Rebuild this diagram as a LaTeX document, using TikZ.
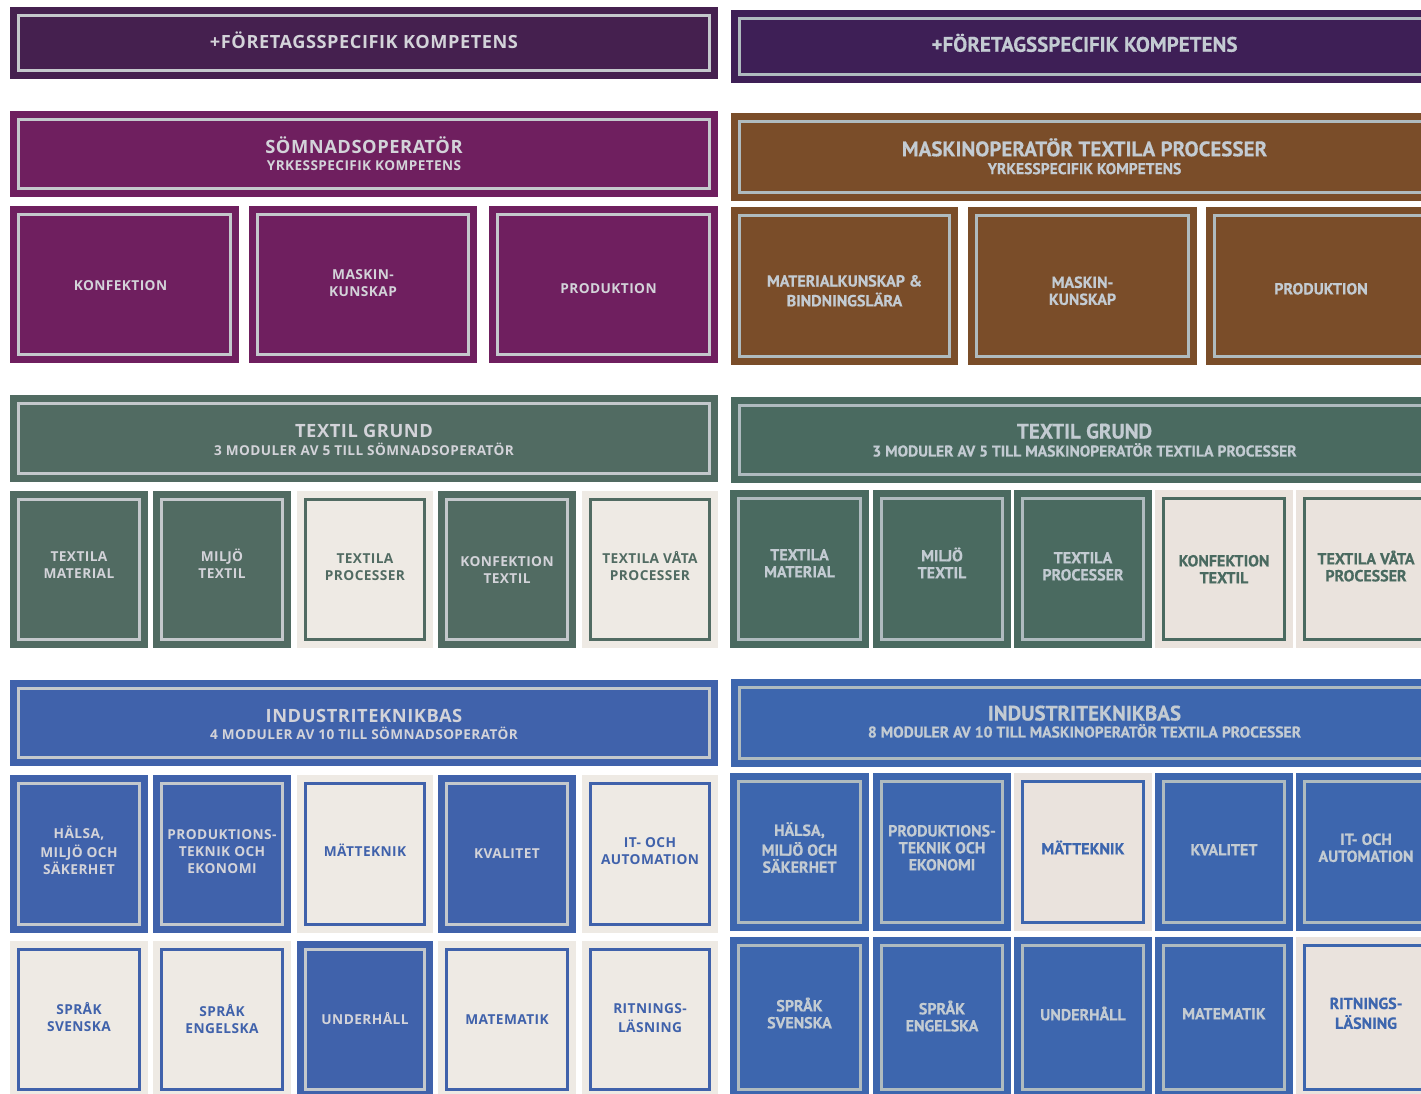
\documentclass[tikz,border=0pt]{standalone}
\usepackage{fontspec}
\setmainfont{Open Sans}
\newfontfamily\lfont[LetterSpace=3]{Open Sans}
\newfontfamily\rfont[BoldFont={PT Sans Bold}, BoldFeatures={FakeBold=0.5}]{PT Sans}
\definecolor{dpL}{HTML}{45204F}
\definecolor{dpR}{HTML}{3E1F56}
\definecolor{mag}{HTML}{6F1F5F}
\definecolor{brn}{HTML}{7A4D29}
\definecolor{grnL}{HTML}{516B62}
\definecolor{grnR}{HTML}{4A6A60}
\definecolor{bluL}{HTML}{4062AB}
\definecolor{bluR}{HTML}{3D66AE}
\definecolor{crmL}{HTML}{EEEAE4}
\definecolor{crmR}{HTML}{EAE3DD}
\definecolor{lineL}{HTML}{C4C8CC}
\definecolor{lineR}{HTML}{AFBBBF}
\definecolor{txtL}{HTML}{D3D3D9}
\definecolor{txtR}{HTML}{C3CBD2}
\newcommand\fsz[2]{\fontsize{#1}{#2}\selectfont}
\newcommand\modbox[8]{%
  \node[boxbase, fill=#6, minimum width={(#4-#2)*1pt}, minimum height={(#5-#3)*1pt}] (#1) at ({(#2+#4)/2},{(#3+#5)/2}) {};
  \draw[#8, draw=#7] ([xshift=8.5pt,yshift=-8.5pt]#1.north west) rectangle ([xshift=-8.5pt,yshift=8.5pt]#1.south east);}
\tikzset{
  boxbase/.style={inner sep=0pt, outer sep=0pt, draw=none},
  inL/.style={line width=2.4pt},
  inR/.style={line width=3pt},
  txtbase/.style={align=center, inner sep=0pt, yshift=-3pt},
  ltop/.style={txtbase, font=\lfont\bfseries\fsz{18.2}{23}},
  ltitle/.style={txtbase, font=\lfont\bfseries\fsz{18.3}{23}},
  lsub/.style={txtbase, font=\lfont\bfseries\fsz{13.6}{17}},
  lmod/.style={txtbase, font=\lfont\bfseries\fsz{13.7}{17}},
  rtop/.style={txtbase, font=\rfont\bfseries\fsz{21}{25}},
  rtitle/.style={txtbase, font=\rfont\bfseries\fsz{21}{25}},
  rsub/.style={txtbase, font=\rfont\bfseries\fsz{15.6}{18}},
  rmod/.style={txtbase, font=\rfont\bfseries\fsz{16}{17}},
}
\begin{document}
\begin{tikzpicture}[x=1pt, y=-1pt]
\useasboundingbox (0,0) rectangle (1421,1093);
\clip (0,0) rectangle (1421,1093);
\fill[white] (0,0) rectangle (1421,1093);
% ================= LEFT PANEL =================
\modbox{lT}{10}{7}{718}{79}{dpL}{lineL}{inL}
\node[ltop, text=txtL] (lT-t) at ([yshift=2pt]lT.center) {\strut+FÖRETAGSSPECIFIK KOMPETENS\strut};
\modbox{lH}{10}{111}{718}{197}{mag}{lineL}{inL}
\node[ltitle, text=txtL] (lH-t) at ([yshift=8pt]lH.center) {\strut SÖMNADSOPERATÖR\strut};
\node[lsub, text=txtL] (lH-s) at ([yshift=-10pt]lH.center) {\strut YRKESSPECIFIK KOMPETENS\strut};
\modbox{lK1}{10}{206}{239}{363}{mag}{lineL}{inL}
\modbox{lK2}{249}{206}{477}{363}{mag}{lineL}{inL}
\modbox{lK3}{489}{206}{718}{363}{mag}{lineL}{inL}
\node[lmod, text=txtL] (lK1-t) at ([xshift=-4pt]lK1.center) {\strut KONFEKTION\strut};
\node[lmod, text=txtL] (lK2-t) at ([yshift=3pt]lK2.center) {\strut MASKIN-\\KUNSKAP\strut};
\node[lmod, text=txtL] (lK3-t) at ([xshift=5pt,yshift=-2.5pt]lK3.center) {\strut PRODUKTION\strut};
% Textil grund
\modbox{lG}{10}{395}{718}{482}{grnL}{lineL}{inL}
\node[ltitle, text=txtL] (lG-t) at ([yshift=8.5pt]lG.center) {\strut TEXTIL GRUND\strut};
\node[lsub, text=txtL] (lG-s) at ([yshift=-10.5pt]lG.center) {\strut 3 MODULER AV 5 TILL SÖMNADSOPERATÖR\strut};
\modbox{lG1}{10}{491}{148}{648}{grnL}{lineL}{inL}
\modbox{lG2}{153}{491}{291}{648}{grnL}{lineL}{inL}
\modbox{lG3}{297}{491}{433}{648}{crmL}{grnL}{inL}
\modbox{lG4}{438}{491}{576}{648}{grnL}{lineL}{inL}
\modbox{lG5}{582}{491}{718}{648}{crmL}{grnL}{inL}
\node[lmod, text=txtL] (lG1-t) at ([yshift=6pt]lG1.center) {\strut TEXTILA\\MATERIAL\strut};
\node[lmod, text=txtL] (lG2-t) at ([yshift=6pt]lG2.center) {\strut MILJÖ\\TEXTIL\strut};
\node[lmod, text=grnL] (lG3-t) at ([yshift=4pt]lG3.center) {\strut TEXTILA\\PROCESSER\strut};
\node[lmod, text=txtL] (lG4-t) at ([yshift=1pt]lG4.center) {\strut KONFEKTION\\TEXTIL\strut};
\node[lmod, text=grnL] (lG5-t) at ([yshift=4pt]lG5.center) {\strut TEXTILA VÅTA\\PROCESSER\strut};
% Industriteknikbas
\modbox{lI}{10}{680}{718}{766}{bluL}{lineL}{inL}
\node[ltitle, text=txtL] (lI-t) at ([yshift=8pt]lI.center) {\strut INDUSTRITEKNIKBAS\strut};
\node[lsub, text=txtL] (lI-s) at ([yshift=-10pt]lI.center) {\strut 4 MODULER AV 10 TILL SÖMNADSOPERATÖR\strut};
\modbox{lA1}{10}{775}{148}{933}{bluL}{lineL}{inL}
\modbox{lA2}{153}{775}{291}{933}{bluL}{lineL}{inL}
\modbox{lA3}{297}{775}{433}{933}{crmL}{bluL}{inL}
\modbox{lA4}{438}{775}{576}{933}{bluL}{lineL}{inL}
\modbox{lA5}{582}{775}{718}{933}{crmL}{bluL}{inL}
\node[lmod, text=txtL] (lA1-t) at ([yshift=4pt]lA1.center) {\strut HÄLSA,\\MILJÖ OCH\\SÄKERHET\strut};
\node[lmod, text=txtL] (lA2-t) at ([yshift=4pt]lA2.center) {\strut PRODUKTIONS-\\TEKNIK OCH\\EKONOMI\strut};
\node[lmod, text=bluL] (lA3-t) at ([yshift=4pt]lA3.center) {\strut MÄTTEKNIK\strut};
\node[lmod, text=txtL] (lA4-t) at ([yshift=2pt]lA4.center) {\strut KVALITET\strut};
\node[lmod, text=bluL] (lA5-t) at ([yshift=4pt]lA5.center) {\strut IT- OCH\\AUTOMATION\strut};
\modbox{lB1}{10}{941}{148}{1098}{crmL}{bluL}{inL}
\modbox{lB2}{153}{941}{291}{1098}{crmL}{bluL}{inL}
\modbox{lB3}{297}{941}{433}{1098}{bluL}{lineL}{inL}
\modbox{lB4}{438}{941}{576}{1098}{crmL}{bluL}{inL}
\modbox{lB5}{582}{941}{718}{1098}{crmL}{bluL}{inL}
\node[lmod, text=bluL] (lB1-t) at ([yshift=3pt]lB1.center) {\strut SPRÅK\\SVENSKA\strut};
\node[lmod, text=bluL] (lB2-t) at ([yshift=1pt]lB2.center) {\strut SPRÅK\\ENGELSKA\strut};
\node[lmod, text=txtL] (lB3-t) at ([yshift=1.5pt]lB3.center) {\strut UNDERHÅLL\strut};
\node[lmod, text=bluL] (lB4-t) at ([yshift=1.5pt]lB4.center) {\strut MATEMATIK\strut};
\node[lmod, text=bluL] (lB5-t) at ([yshift=3pt]lB5.center) {\strut RITNINGS-\\LÄSNING\strut};
% ================= RIGHT PANEL =================
\modbox{rT}{731}{10}{1438}{83}{dpR}{lineR}{inR}
\node[rtop, text=txtR] (rT-t) at ([yshift=3pt]rT.center) {\strut+FÖRETAGSSPECIFIK KOMPETENS\strut};
\modbox{rH}{731}{113}{1438}{201}{brn}{lineR}{inR}
\node[rtitle, text=txtR] (rH-t) at ([yshift=9pt]rH.center) {\strut MASKINOPERATÖR TEXTILA PROCESSER\strut};
\node[rsub, text=txtR] (rH-s) at ([yshift=-10.5pt]rH.center) {\strut YRKESSPECIFIK KOMPETENS\strut};
\modbox{rK1}{731}{207}{958}{365}{brn}{lineR}{inR}
\modbox{rK2}{968}{207}{1197}{365}{brn}{lineR}{inR}
\modbox{rK3}{1206}{207}{1436}{365}{brn}{lineR}{inR}
\node[rmod, text=txtR] (rK1-t) at ([yshift=-4pt]rK1.center) {\strut MATERIALKUNSKAP \&\\BINDNINGSLÄRA\strut};
\node[rmod, text=txtR] (rK2-t) at ([yshift=-4pt]rK2.center) {\strut MASKIN-\\KUNSKAP\strut};
\node[rmod, text=txtR] (rK3-t) at ([yshift=-2pt]rK3.center) {\strut PRODUKTION\strut};
% Textil grund
\modbox{rG}{731}{397}{1438}{483}{grnR}{lineR}{inR}
\node[rtitle, text=txtR] (rG-t) at ([yshift=9.5pt]rG.center) {\strut TEXTIL GRUND\strut};
\node[rsub, text=txtR] (rG-s) at ([yshift=-9.5pt]rG.center) {\strut 3 MODULER AV 5 TILL MASKINOPERATÖR TEXTILA PROCESSER\strut};
\modbox{rG1}{730}{490}{869}{648}{grnR}{lineR}{inR}
\modbox{rG2}{873}{490}{1011}{648}{grnR}{lineR}{inR}
\modbox{rG3}{1014}{490}{1152}{648}{grnR}{lineR}{inR}
\modbox{rG4}{1155}{490}{1293}{648}{crmR}{grnR}{inR}
\modbox{rG5}{1296}{490}{1436}{648}{crmR}{grnR}{inR}
\node[rmod, text=txtR] (rG1-t) at ([yshift=6.5pt]rG1.center) {\strut TEXTILA\\MATERIAL\strut};
\node[rmod, text=txtR] (rG2-t) at ([yshift=6.5pt]rG2.center) {\strut MILJÖ\\TEXTIL\strut};
\node[rmod, text=txtR] (rG3-t) at ([yshift=3.5pt]rG3.center) {\strut TEXTILA\\PROCESSER\strut};
\node[rmod, text=grnR] (rG4-t) at ([yshift=0.5pt]rG4.center) {\strut KONFEKTION\\TEXTIL\strut};
\node[rmod, text=grnR] (rG5-t) at ([yshift=3.5pt]rG5.center) {\strut TEXTILA VÅTA\\PROCESSER\strut};
% Industriteknikbas
\modbox{rI}{731}{679}{1438}{767}{bluR}{lineR}{inR}
\node[rtitle, text=txtR] (rI-t) at ([yshift=10.5pt]rI.center) {\strut INDUSTRITEKNIKBAS\strut};
\node[rsub, text=txtR] (rI-s) at ([yshift=-7.5pt]rI.center) {\strut 8 MODULER AV 10 TILL MASKINOPERATÖR TEXTILA PROCESSER\strut};
\modbox{rA1}{730}{773}{869}{931}{bluR}{lineR}{inR}
\modbox{rA2}{873}{773}{1011}{931}{bluR}{lineR}{inR}
\modbox{rA3}{1014}{773}{1152}{931}{crmR}{bluR}{inR}
\modbox{rA4}{1155}{773}{1293}{931}{bluR}{lineR}{inR}
\modbox{rA5}{1296}{773}{1436}{931}{bluR}{lineR}{inR}
\node[rmod, text=txtR] (rA1-t) at ([yshift=5pt]rA1.center) {\strut HÄLSA,\\MILJÖ OCH\\SÄKERHET\strut};
\node[rmod, text=txtR] (rA2-t) at ([yshift=5pt]rA2.center) {\strut PRODUKTIONS-\\TEKNIK OCH\\EKONOMI\strut};
\node[rmod, text=bluR] (rA3-t) at ([yshift=5pt]rA3.center) {\strut MÄTTEKNIK\strut};
\node[rmod, text=txtR] (rA4-t) at ([yshift=3pt]rA4.center) {\strut KVALITET\strut};
\node[rmod, text=txtR] (rA5-t) at ([yshift=5pt]rA5.center) {\strut IT- OCH\\AUTOMATION\strut};
\modbox{rB1}{730}{937}{869}{1098}{bluR}{lineR}{inR}
\modbox{rB2}{873}{937}{1011}{1098}{bluR}{lineR}{inR}
\modbox{rB3}{1014}{937}{1152}{1098}{bluR}{lineR}{inR}
\modbox{rB4}{1155}{937}{1293}{1098}{bluR}{lineR}{inR}
\modbox{rB5}{1296}{937}{1436}{1098}{crmR}{bluR}{inR}
\node[rmod, text=txtR] (rB1-t) at ([yshift=5pt]rB1.center) {\strut SPRÅK\\SVENSKA\strut};
\node[rmod, text=txtR] (rB2-t) at ([yshift=2pt]rB2.center) {\strut SPRÅK\\ENGELSKA\strut};
\node[rmod, text=txtR] (rB3-t) at ([yshift=4.5pt]rB3.center) {\strut UNDERHÅLL\strut};
\node[rmod, text=txtR] (rB4-t) at ([yshift=4.5pt]rB4.center) {\strut MATEMATIK\strut};
\node[rmod, text=bluR] (rB5-t) at ([yshift=5pt]rB5.center) {\strut RITNINGS-\\LÄSNING\strut};
\end{tikzpicture}
\end{document}
